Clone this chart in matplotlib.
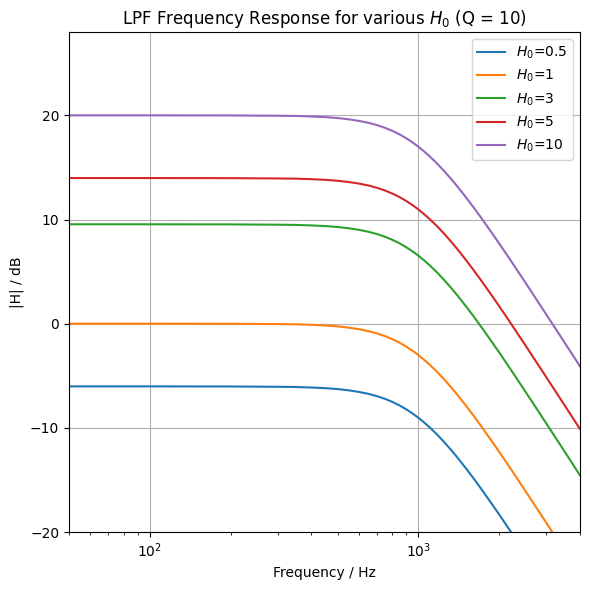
import numpy as np
import matplotlib
matplotlib.use('Agg')
import matplotlib.pyplot as plt

freq = [50, 100, 200, 300, 350, 400, 450, 500, 550, 600, 650, 700, 750, 800,
        850, 900, 950, 1000, 1050, 1100, 1175, 1250, 1325, 1400, 1500, 1600,
        1700, 1800, 1900, 2000, 2125, 2250, 2500, 2650, 2800, 3150, 3300,
        3500, 3750, 4000]

# gain (dB) for each H0
gain_05 = [-6.02, -6.02, -6.03, -6.06, -6.08, -6.13, -6.19, -6.28, -6.40, -6.55,
           -6.73, -6.95, -7.21, -7.51, -7.84, -8.21, -8.61, -9.03, -9.48, -9.94,
           -10.65, -11.39, -12.13, -12.87, -13.85, -14.80, -15.73, -16.63, -17.49,
           -18.32, -19.32, -20.27, -22.05, -23.04, -23.98, -26.00, -26.80, -27.81,
           -29.00, -30.12]
gain_1 = [0.00, 0.00, -0.01, -0.04, -0.06, -0.11, -0.17, -0.26, -0.38, -0.53,
          -0.71, -0.93, -1.19, -1.49, -1.82, -2.19, -2.59, -3.01, -3.46, -3.92,
          -4.63, -5.37, -6.11, -6.85, -7.83, -8.78, -9.71, -10.61, -11.47,
          -12.30, -13.30, -14.25, -16.03, -17.02, -17.96, -19.98, -20.78, -21.79,
          -22.98, -24.10]
gain_3 = [9.54, 9.54, 9.53, 9.50, 9.48, 9.43, 9.37, 9.28, 9.16, 9.01,
          8.83, 8.61, 8.35, 8.05, 7.72, 7.35, 6.95, 6.53, 6.08, 5.62,
          4.91, 4.17, 3.43, 2.69, 1.71, 0.76, -0.17, -1.07, -1.93,
          -2.76, -3.76, -4.71, -6.49, -7.48, -8.42, -10.44, -11.24, -12.25,
          -13.44, -14.56]
gain_5 = [13.98, 13.98, 13.97, 13.94, 13.92, 13.87, 13.81, 13.72, 13.60, 13.45,
          13.27, 13.05, 12.79, 12.49, 12.16, 11.79, 11.39, 10.97, 10.52, 10.06,
          9.35, 8.61, 7.87, 7.13, 6.15, 5.20, 4.27, 3.37, 2.51,
          1.68, 0.68, -0.27, -2.05, -3.04, -3.98, -6.00, -6.80, -7.81,
          -9.00, -10.12]
gain_10 = [20.00, 20.00, 19.99, 19.96, 19.94, 19.89, 19.83, 19.74, 19.62, 19.47,
           19.29, 19.07, 18.81, 18.51, 18.18, 17.81, 17.41, 16.99, 16.54, 16.08,
           15.37, 14.63, 13.89, 13.15, 12.17, 11.22, 10.29, 9.39, 8.53,
           7.70, 6.70, 5.75, 3.97, 2.98, 2.04, 0.02, -0.78, -1.79,
           -2.98, -4.10]

labels = ['$H_0$=0.5', '$H_0$=1', '$H_0$=3', '$H_0$=5', '$H_0$=10']
series = [gain_05, gain_1, gain_3, gain_5, gain_10]

fig = plt.figure(figsize=(5.9, 5.9), dpi=100)
ax = fig.add_axes([69/590, 58/590, 511/590, 500/590])
for g, lab in zip(series, labels):
    ax.semilogx(freq, g, label=lab)

ax.set_xlim(50, 4000)
ax.set_ylim(-20, 28)
ax.grid(True)
ax.set_title('LPF Frequency Response for various $H_0$ (Q = 10)')
ax.set_xlabel('Frequency / Hz')
ax.set_ylabel('|H| / dB')
ax.legend(loc='upper right')
fig.savefig('out.png')
